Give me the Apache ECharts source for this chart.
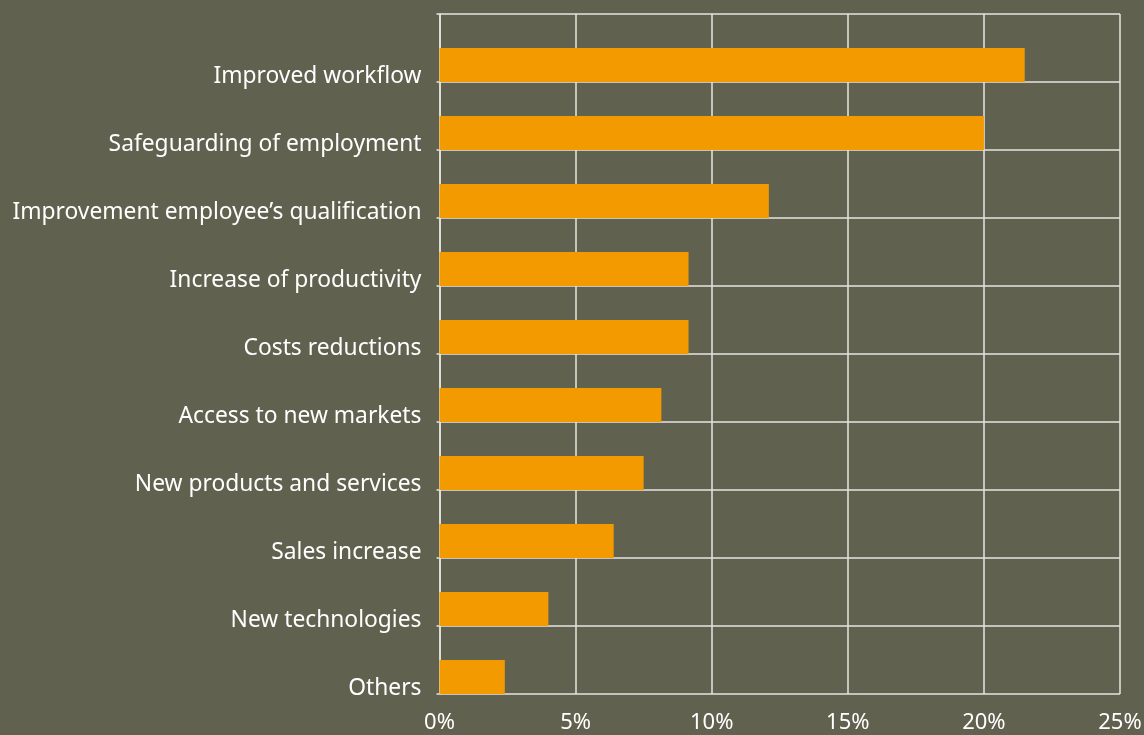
<!DOCTYPE html>
<html>
<head>
<meta charset="utf-8">
<script src="https://cdn.jsdelivr.net/npm/echarts@6/dist/echarts.min.js"></script>
<style>
html,body{margin:0;padding:0;background:#61614f;}
#c{width:1144px;height:735px;}
</style>
</head>
<body>
<div id="c"></div>
<script>
const categories = [
  "Improved workflow",
  "Safeguarding of employment",
  "Improvement employee’s qualification",
  "Increase of productivity",
  "Costs reductions",
  "Access to new markets",
  "New products and services",
  "Sales increase",
  "New technologies",
  "Others"
];
const values = [21.5, 20.0, 12.1, 9.15, 9.15, 8.15, 7.5, 6.4, 4.0, 2.4];
const spacer = categories.map(() => 0);
const xTicks = { min: 0, max: 25, interval: 5 };

const chart = echarts.init(document.getElementById('c'));
const lineColor = '#e6e6e0';
chart.setOption({
  backgroundColor: '#61614f',
  animation: false,
  grid: { left: 439.5, right: 24, top: 14, bottom: 41, containLabel: false, outerBoundsMode: 'none' },
  xAxis: {
    type: 'value',
    min: xTicks.min, max: xTicks.max, interval: xTicks.interval,
    axisLine: { show: false },
    axisTick: { show: false },
    splitLine: { show: true, lineStyle: { color: lineColor, width: 1.5 } },
    axisLabel: {
      formatter: '{value}%',
      color: '#ffffff',
      fontSize: 22,
      fontFamily: 'Noto Sans',
      margin: 18,
      showMinLabel: true,
      showMaxLabel: true
    }
  },
  yAxis: {
    type: 'category',
    data: categories,
    inverse: true,
    axisLine: { show: true, lineStyle: { color: lineColor, width: 1.5 } },
    axisTick: { show: true, length: 3, lineStyle: { color: lineColor, width: 1.5 } },
    splitLine: { show: true, lineStyle: { color: lineColor, width: 1.5 } },
    axisLabel: {
      color: '#ffffff',
      fontSize: 22.8,
      fontFamily: 'Noto Sans',
      margin: 18,
      lineHeight: 57,
      interval: 0,
      showMinLabel: true,
      showMaxLabel: true,
      hideOverlap: false,
      formatter: v => '\n' + v
    }
  },
  series: [
    {
      type: 'bar',
      data: spacer,
      barWidth: '50%',
      barGap: '0%',
      itemStyle: { color: 'rgba(0,0,0,0)' },
      silent: true
    },
    {
      type: 'bar',
      data: values,
      barWidth: '50%',
      barGap: '0%',
      itemStyle: { color: '#f29a00' },
      z: 1
    }
  ]
});
</script>
</body>
</html>
